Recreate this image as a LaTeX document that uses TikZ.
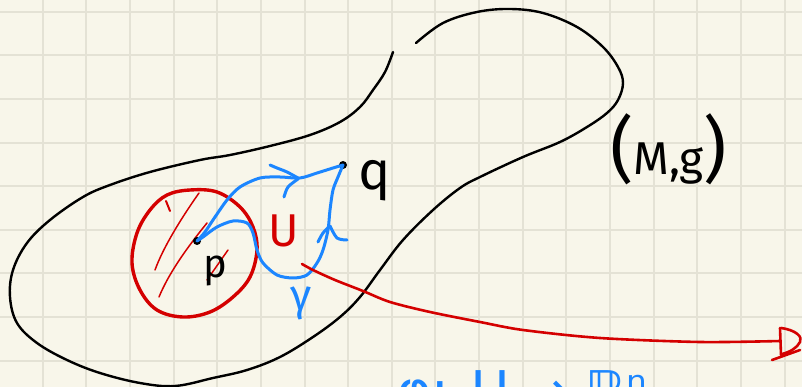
\documentclass[tikz,border=0pt]{standalone}
\usepackage{fontspec}
\setmainfont{Fira Sans}
\newfontfamily\symfont{DejaVu Sans}
\definecolor{paper}{HTML}{F8F6EA}
\definecolor{gridc}{HTML}{E4E2D5}
\definecolor{penred}{HTML}{D40000}
\definecolor{penblue}{HTML}{1C86FF}
\begin{document}
\begin{tikzpicture}[x=1pt,y=-1pt,
  gridline/.style={draw=gridc,line width=2pt},
  ink/.style={draw=black,line width=2.4pt,line cap=round,line join=round},
  redpen/.style={draw=penred,line width=3.4pt,line cap=round,line join=round},
  redline/.style={draw=penred,line width=2.6pt,line cap=round,line join=round},
  redthin/.style={draw=penred,line width=1.5pt,line cap=round},
  bluepen/.style={draw=penblue,line width=3pt,line cap=round,line join=round},
  lbl/.style={inner sep=0pt,anchor=base west},
  dotnode/.style={circle,fill=black,inner sep=0pt,minimum size=8pt}]
\useasboundingbox (0,0) rectangle (802,387);
\fill[paper] (0,0) rectangle (802,387);
\foreach \k in {0,...,18} \draw[gridline] ({43.64*\k-0.94},0) -- ({43.64*\k-0.94},387);
\foreach \j in {0,...,8} \draw[gridline] (0,{11.7+43.63*\j}) -- (802,{11.7+43.63*\j});

% manifold outline
\draw[ink] plot[smooth,tension=0.6] coordinates {(393,52) (385,72) (373,90) (360,107) (340,122) (310,135) (270,146) (230,155) (200,160) (150,172) (110,185) (83,197) (50,220) (27,243) (13,270) (10,297) (17,323) (37,343) (67,360) (100,373) (140,383) (175,386) (213,378) (247,370) (280,357) (313,337) (340,317) (360,297) (380,270) (403,240) (433,210) (460,188) (480,177) (523,157) (560,142) (587,127) (607,113) (618,100) (623,83) (618,67) (603,47) (577,27) (543,13) (510,9) (477,12) (443,23) (416,43)};

% neighbourhood U
\draw[redpen] plot[smooth cycle,tension=0.6] coordinates {(190,190) (217,192) (240,207) (253,227) (257,250) (250,277) (233,297) (210,312) (183,317) (157,310) (140,290) (132,263) (137,233) (150,210) (167,195)};
\draw[redthin,line width=2pt] (166,201) -- (170,211);
\draw[redthin] (199,193) .. controls (180,220) and (163,248) .. (155,270);
\draw[redthin] (207,223) .. controls (185,250) and (168,275) .. (159,297);
\draw[redthin] (207,280) -- (228,250);

% points
\node[dotnode] (p) at (197,241) {};
\node[dotnode] (q) at (343,165) {};

% curves gamma
\draw[bluepen] plot[smooth] coordinates {(p.center) (205,232) (213,220) (227,200) (240,187) (260,178) (280,177) (300,178) (317,173) (333,168) (q.center)};
\draw[bluepen] plot[smooth] coordinates {(270,165) (277,168) (287,172) (298,178)};
\draw[bluepen] plot[smooth] coordinates {(284,197) (288,187) (298,179)};
\draw[bluepen] plot[smooth] coordinates {(p.center) (203,237) (217,227) (233,221) (247,223) (253,233) (257,250) (263,263) (277,275) (293,278) (307,275) (317,263) (323,250) (328,230) (330,210) (333,190) (338,177) (q.center)};
\draw[bluepen] plot[smooth] coordinates {(318,242) (323,233) (330,226)};
\draw[bluepen] plot[smooth] coordinates {(330,226) (337,238) (347,240)};

% chart arrow
\coordinate (ustart) at (302,264);
\coordinate (chart) at (780,341);
\draw[redline] plot[smooth] coordinates {(ustart) (313,270) (335,280) (363,291) (390,302) (430,312) (480,322) (523,330) (600,338) (700,342) (chart)};
\draw[redline] (780,328) -- (781,355);
\draw[redline] (781,328) .. controls (796,330) and (803,337) .. (800,342) .. controls (797,348) and (790,352) .. (782,354);
\draw[redline] (772,360) -- (800,350);

% labels
\node[lbl,font=\fontsize{54}{54}\selectfont] (qlabel) at (358,190) {q};
\node[lbl,font=\fontsize{40}{40}\selectfont] (plabel) at (203,277) {p};
\node[lbl,text=penred,font=\fontsize{46}{46}\selectfont] (Ulabel) at (268,247) {U};
\node[lbl,text=penblue,font=\fontsize{44}{44}\selectfont] (gammalabel) at (290,310) {γ};
\node[lbl,font=\fontsize{46}{46}\selectfont] (Mg) at (610,175) {{\fontsize{72}{72}\selectfont(}M,g{\fontsize{72}{72}\selectfont)}};
\node[inner sep=0pt,anchor=north west,text=penblue,font=\symfont\fontsize{52}{52}\selectfont] (chartlabel) at (397,370) {φ: U → ℝⁿ};
\end{tikzpicture}
\end{document}
